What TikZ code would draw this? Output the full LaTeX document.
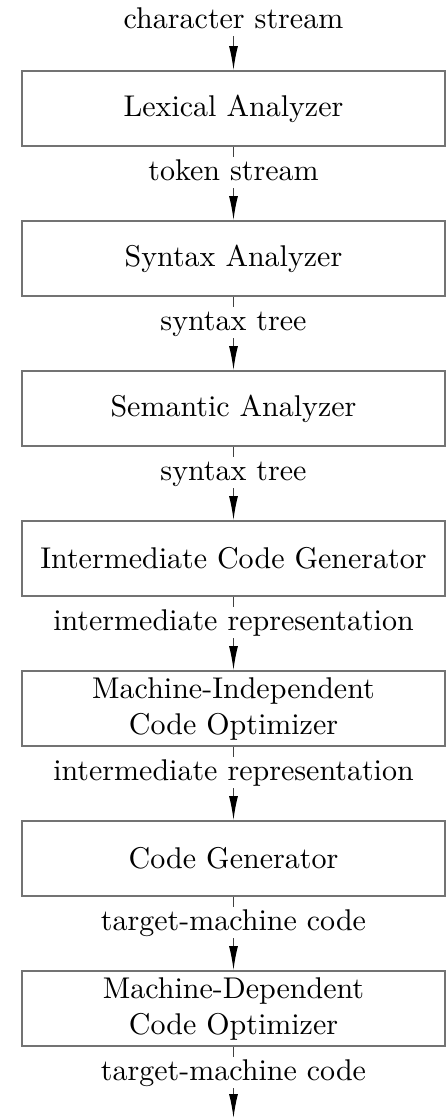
\documentclass[tikz,border=0pt]{standalone}
\usetikzlibrary{arrows.meta}
\tikzset{
  phase/.style={draw=black!55, line width=0.6pt, minimum width=141pt,
    minimum height=25pt, inner sep=0pt, align=center, font=\normalsize},
  flowlabel/.style={inner xsep=2pt, inner ysep=0.5pt, text height=7pt,
    text depth=2pt},
  flow/.style={draw=black!75, line width=0.4pt},
  flowarrow/.style={flow, -{Latex[length=8pt,width=3pt,black]}}
}
\begin{document}
\begin{tikzpicture}[x=0.33333pt, y=-0.33333pt]
  \useasboundingbox (0,0) rectangle (448,1118);

  % compiler phases, one every 150 units
  \node[phase] (lex)  at (233.5,108.5)  {Lexical Analyzer};
  \node[phase] (syn)  at (233.5,258.5)  {Syntax Analyzer};
  \node[phase] (sem)  at (233.5,408.5)  {Semantic Analyzer};
  \node[phase] (icg)  at (233.5,558.5)  {Intermediate Code Generator};
  \node[phase] (mio)  at (233.5,708.5)  {Machine-Independent\\Code Optimizer};
  \node[phase] (cg)   at (233.5,858.5)  {Code Generator};
  \node[phase] (mdo)  at (233.5,1008.5) {Machine-Dependent\\Code Optimizer};

  % data passed between the phases
  \node[flowlabel] (l0) at (233.5,20.5)   {character stream};
  \node[flowlabel] (l1) at (233.5,172.5)  {token stream};
  \node[flowlabel] (l2) at (233.5,322.5)  {syntax tree};
  \node[flowlabel] (l3) at (233.5,472.5)  {syntax tree};
  \node[flowlabel] (l4) at (233.5,622.5)  {intermediate representation};
  \node[flowlabel] (l5) at (233.5,772.5)  {intermediate representation};
  \node[flowlabel] (l6) at (233.5,922.5)  {target-machine code};
  \node[flowlabel] (l7) at (233.5,1072.5) {target-machine code};
  \coordinate (out) at (233.5,1118);

  \draw[flowarrow] (l0) -- (lex);
  \draw[flow] (lex) -- (l1);  \draw[flowarrow] (l1) -- (syn);
  \draw[flow] (syn) -- (l2);  \draw[flowarrow] (l2) -- (sem);
  \draw[flow] (sem) -- (l3);  \draw[flowarrow] (l3) -- (icg);
  \draw[flow] (icg) -- (l4);  \draw[flowarrow] (l4) -- (mio);
  \draw[flow] (mio) -- (l5);  \draw[flowarrow] (l5) -- (cg);
  \draw[flow] (cg)  -- (l6);  \draw[flowarrow] (l6) -- (mdo);
  \draw[flow] (mdo) -- (l7);  \draw[flowarrow] (l7) -- (out);
\end{tikzpicture}
\end{document}
